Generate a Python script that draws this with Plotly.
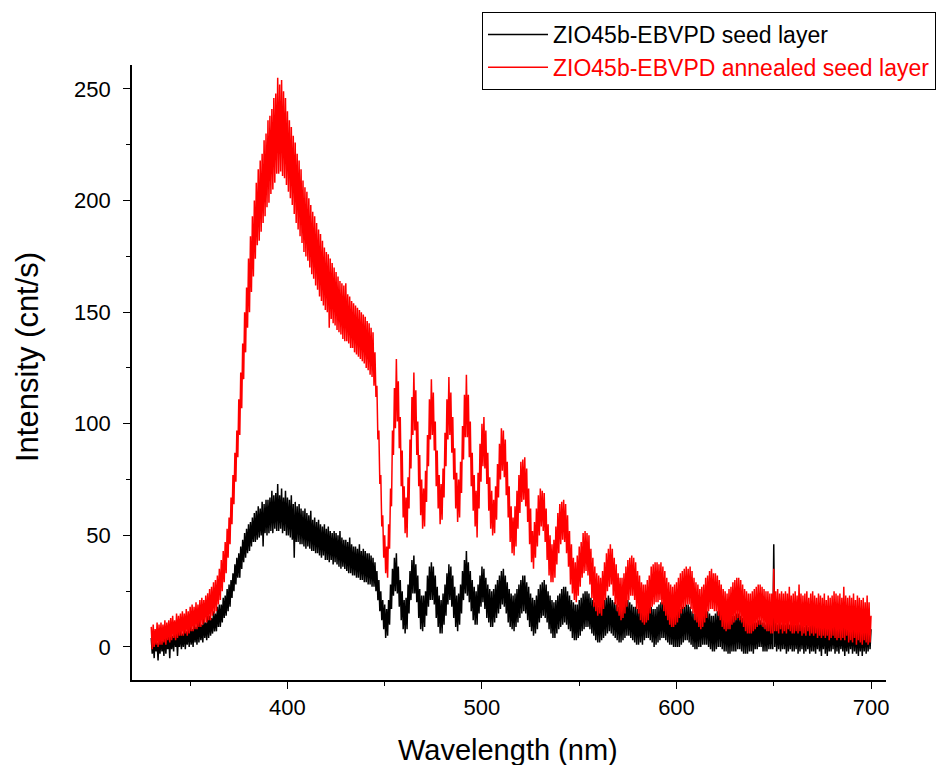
import plotly.graph_objects as go

# Wavelength grid (nm), 0.5 nm sampling from 330 to 700
wavelength = [330 + 0.5 * i for i in range(741)]

# ZIO45b-EBVPD seed layer (cnt/s); each row = 5 nm (10 samples)
seed = (
    [4, -3, 3, -5, 5, -2, 2, -6, 4, -3] +          # 330
    [5, -2, 3, -4, 6, -3, 4, -1, 5, -5] +          # 335
    [7, -1, 5, -2, 8, 0, 6, -4, 7, 0] +            # 340
    [8, -1, 6, 0, 9, -1, 7, 1, 9, 0] +             # 345
    [10, 1, 8, 0, 11, 2, 9, 1, 12, 2] +            # 350
    [12, 3, 10, 2, 13, 4, 11, 3, 14, 4] +          # 355
    [14, 5, 13, 6, 16, 7, 15, 7, 18, 9] +          # 360
    [19, 9, 19, 11, 22, 13, 23, 14, 26, 16] +      # 365
    [28, 18, 30, 22, 33, 25, 37, 28, 40, 31] +     # 370
    [42, 31, 45, 35, 48, 38, 51, 40, 53, 42] +     # 375
    [55, 43, 56, 45, 58, 47, 60, 47, 61, 48] +     # 380
    [63, 49, 62, 50, 65, 45, 64, 51, 66, 50] +     # 385
    [66, 51, 67, 52, 70, 51, 68, 53, 69, 52] +     # 390
    [73, 52, 68, 53, 71, 51, 67, 52, 70, 50] +     # 395
    [67, 50, 66, 49, 68, 48, 64, 40, 65, 47] +     # 400
    [63, 47, 64, 46, 62, 46, 61, 45, 62, 44] +     # 405
    [60, 45, 59, 44, 61, 43, 57, 43, 58, 42] +     # 410
    [56, 42, 57, 41, 55, 40, 54, 41, 55, 39] +     # 415
    [53, 39, 54, 38, 52, 39, 51, 37, 52, 38] +     # 420
    [51, 37, 50, 36, 52, 35, 49, 36, 48, 35] +     # 425
    [48, 34, 47, 33, 49, 33, 46, 32, 45, 32] +     # 430
    [45, 31, 44, 31, 46, 30, 43, 30, 44, 29] +     # 435
    [43, 29, 42, 28, 42, 28, 41, 27, 40, 27] +     # 440
    [38, 25, 34, 21, 30, 16, 25, 12, 21, 8] +      # 445
    [19, 4, 17, 5, 21, 10, 28, 17, 35, 23] +       # 450
    [40, 25, 42, 24, 36, 18, 30, 12, 25, 8] +      # 455
    [21, 6, 22, 8, 28, 15, 34, 21, 39, 24] +       # 460
    [41, 24, 37, 20, 32, 13, 26, 8, 23, 7] +       # 465
    [23, 9, 25, 14, 32, 18, 36, 21, 38, 21] +      # 470
    [36, 19, 32, 13, 27, 9, 23, 6, 21, 6] +        # 475
    [24, 10, 28, 14, 33, 19, 37, 21, 36, 18] +     # 480
    [32, 13, 27, 9, 23, 7, 24, 10, 28, 15] +       # 485
    [34, 21, 39, 24, 43, 23, 38, 20, 34, 16] +     # 490
    [30, 12, 27, 10, 25, 10, 28, 15, 32, 18] +     # 495
    [36, 20, 35, 17, 31, 13, 28, 11, 26, 9] +      # 500
    [25, 9, 26, 11, 28, 13, 30, 15, 32, 17] +      # 505
    [34, 19, 35, 18, 32, 15, 29, 11, 26, 9] +      # 510
    [24, 8, 23, 7, 24, 9, 26, 11, 28, 13] +        # 515
    [30, 15, 32, 16, 32, 15, 29, 12, 27, 9] +      # 520
    [24, 7, 22, 5, 21, 6, 23, 8, 26, 11] +         # 525
    [28, 13, 29, 14, 30, 13, 28, 11, 25, 8] +      # 530
    [23, 6, 21, 4, 20, 4, 21, 6, 23, 8] +          # 535
    [24, 9, 26, 10, 27, 11, 27, 10, 25, 8] +       # 540
    [23, 7, 21, 4, 20, 3, 19, 3, 19, 4] +          # 545
    [21, 5, 22, 7, 24, 8, 25, 9, 25, 9] +          # 550
    [24, 8, 22, 6, 21, 5, 20, 3, 19, 2] +          # 555
    [18, 2, 18, 3, 20, 4, 21, 5, 22, 6] +          # 560
    [23, 7, 22, 6, 21, 5, 20, 4, 19, 3] +          # 565
    [18, 2, 17, 2, 19, 3, 20, 4, 21, 5] +          # 570
    [21, 5, 20, 4, 19, 3, 18, 2, 18, 1] +          # 575
    [17, 1, 17, 2, 18, 1, 19, 3, 20, 4] +          # 580
    [20, 4, 19, 3, 18, 2, 17, 0, 17, 1] +          # 585
    [18, 2, 19, 3, 20, 4, 20, 4, 19, 3] +          # 590
    [18, 2, 17, 1, 17, 1, 16, 0, 16, 0] +          # 595
    [16, 0, 16, 0, 17, 1, 18, 2, 18, 3] +          # 600
    [19, 3, 19, 2, 18, 1, 16, 0, 15, -1] +         # 605
    [15, -1, 15, 0, 16, 0, 17, 1, 17, 1] +         # 610
    [17, 1, 16, 0, 15, -1, 14, -2, 14, -2] +       # 615
    [15, -1, 16, 0, 17, 0, 15, -1, 14, -2] +       # 620
    [14, -2, 13, -3, 13, -3, 14, -2, 14, -2] +     # 625
    [14, -2, 15, -1, 15, -1, 14, -2, 13, -3] +     # 630
    [13, -3, 13, -3, 13, -2, 14, -2, 14, -3] +     # 635
    [11, -1, 11, -1, 12, 0, 12, 0, 11, -2] +       # 640
    [11, -2, 10, -2, 11, -1, 11, -1, 11, -1] +     # 645
    [46, 0, 11, -2, 10, -1, 11, -2, 10, -1] +      # 650
    [11, -1, 10, -3, 11, -2, 10, -1, 11, -2] +     # 655
    [12, -2, 10, -1, 11, -3, 10, -2, 11, -1] +     # 660
    [11, -3, 9, -2, 10, -1, 9, -3, 10, -2] +       # 665
    [11, -2, 10, -3, 9, -1, 10, -2, 9, -4] +       # 670
    [9, -1, 10, -3, 10, -4, 9, -2, 9, -2] +        # 675
    [10, -1, 11, -3, 9, -2, 10, -3, 9, -1] +       # 680
    [9, -2, 10, -4, 10, -2, 9, -3, 9, -1] +        # 685
    [10, -3, 11, -2, 9, -3, 10, -4, 9, -2] +       # 690
    [9, -4, 10, -2, 9, -3, 10, -2, 9, -1] +        # 695
    [8]                                            # 700
)

# ZIO45b-EBVPD annealed seed layer (cnt/s)
annealed = (
    [9, -1, 10, 0, 8, 1, 11, 0, 10, 1] +                   # 330
    [11, 1, 10, 2, 12, 1, 11, 3, 12, 2] +                  # 335
    [13, 3, 14, 4, 12, 3, 15, 4, 14, 5] +                  # 340
    [15, 5, 16, 5, 15, 6, 17, 5, 16, 6] +                  # 345
    [18, 7, 19, 7, 18, 8, 20, 8, 19, 9] +                  # 350
    [21, 9, 22, 10, 21, 11, 23, 11, 24, 12] +              # 355
    [26, 12, 27, 14, 29, 15, 30, 16, 32, 19] +             # 360
    [35, 21, 39, 25, 43, 29, 47, 33, 53, 40] +             # 365
    [58, 46, 67, 55, 77, 64, 87, 74, 97, 85] +             # 370
    [111, 95, 123, 107, 136, 120, 150, 132, 161, 143] +    # 375
    [174, 150, 184, 159, 193, 166, 200, 174, 208, 180] +   # 380
    [214, 182, 218, 186, 221, 190, 227, 193, 230, 197] +   # 385
    [236, 199, 238, 203, 241, 205, 246, 208, 248, 212] +   # 390
    [255, 212, 252, 213, 254, 211, 249, 210, 246, 207] +   # 395
    [240, 204, 236, 201, 233, 198, 229, 194, 226, 190] +   # 400
    [221, 187, 218, 184, 214, 181, 209, 177, 206, 175] +   # 405
    [204, 173, 201, 170, 198, 167, 195, 165, 193, 162] +   # 410
    [190, 160, 187, 157, 185, 155, 182, 153, 179, 151] +   # 415
    [177, 150, 176, 143, 174, 147, 172, 145, 170, 144] +   # 420
    [168, 142, 166, 141, 164, 140, 163, 138, 162, 137] +   # 425
    [163, 137, 158, 136, 157, 134, 155, 134, 154, 132] +   # 430
    [153, 131, 152, 130, 151, 129, 150, 128, 149, 127] +   # 435
    [148, 125, 146, 124, 145, 122, 143, 121, 141, 117] +   # 440
    [132, 112, 117, 93, 97, 73, 77, 54, 59, 40] +          # 445
    [50, 33, 45, 31, 55, 44, 71, 63, 97, 86] +             # 450
    [116, 98, 129, 101, 119, 89, 103, 72, 88, 58] +        # 455
    [72, 51, 67, 49, 76, 62, 93, 80, 112, 95] +            # 460
    [123, 97, 115, 86, 101, 72, 86, 59, 75, 53] +          # 465
    [71, 54, 79, 65, 95, 81, 111, 93, 120, 95] +           # 470
    [114, 88, 101, 72, 88, 62, 77, 55, 73, 57] +           # 475
    [80, 67, 96, 81, 111, 93, 121, 95, 114, 87] +          # 480
    [103, 75, 89, 62, 78, 56, 75, 58, 83, 69] +            # 485
    [99, 84, 113, 94, 122, 94, 113, 85, 101, 72] +         # 490
    [87, 61, 77, 54, 70, 49, 78, 62, 91, 74] +             # 495
    [100, 81, 103, 80, 97, 73, 87, 61, 76, 53] +           # 500
    [70, 50, 66, 51, 72, 57, 82, 67, 91, 75] +             # 505
    [98, 79, 97, 76, 93, 68, 83, 58, 72, 47] +             # 510
    [63, 42, 58, 41, 63, 45, 70, 53, 77, 60] +             # 515
    [83, 65, 84, 66, 85, 63, 80, 56, 71, 46] +             # 520
    [62, 38, 52, 35, 56, 40, 62, 45, 68, 50] +             # 525
    [71, 54, 70, 52, 69, 47, 62, 39, 55, 32] +             # 530
    [50, 29, 46, 29, 48, 31, 54, 37, 60, 42] +             # 535
    [64, 46, 65, 48, 66, 47, 64, 42, 59, 36] +             # 540
    [52, 28, 46, 24, 40, 21, 38, 20, 41, 23] +             # 545
    [45, 27, 47, 31, 51, 33, 52, 34, 51, 32] +             # 550
    [50, 28, 44, 22, 40, 18, 36, 16, 33, 14] +             # 555
    [32, 15, 31, 14, 34, 17, 38, 21, 42, 25] +             # 560
    [44, 27, 46, 28, 44, 23, 40, 19, 37, 16] +             # 565
    [33, 14, 31, 12, 31, 13, 33, 15, 36, 18] +             # 570
    [39, 21, 40, 23, 41, 23, 40, 21, 38, 17] +             # 575
    [34, 15, 32, 12, 29, 11, 28, 10, 28, 11] +             # 580
    [30, 12, 32, 15, 36, 18, 37, 19, 38, 20] +             # 585
    [38, 20, 37, 21, 38, 19, 36, 16, 34, 14] +             # 590
    [31, 12, 29, 10, 28, 9, 27, 9, 28, 10] +               # 595
    [29, 11, 31, 13, 33, 15, 34, 17, 35, 18] +             # 600
    [36, 19, 35, 19, 36, 17, 34, 15, 31, 12] +             # 605
    [29, 11, 28, 9, 26, 8, 27, 9, 28, 11] +                # 610
    [31, 13, 32, 16, 34, 17, 35, 17, 33, 16] +             # 615
    [33, 16, 32, 14, 30, 12, 28, 9, 26, 8] +               # 620
    [25, 7, 24, 8, 26, 8, 27, 10, 29, 11] +                # 625
    [30, 12, 31, 13, 31, 12, 30, 11, 28, 9] +              # 630
    [26, 7, 25, 6, 24, 6, 24, 6, 25, 7] +                  # 635
    [26, 8, 27, 9, 28, 10, 28, 10, 27, 9] +                # 640
    [26, 8, 25, 7, 25, 7, 24, 6, 24, 6] +                  # 645
    [35, 7, 25, 7, 26, 6, 24, 8, 25, 6] +                  # 650
    [24, 7, 25, 6, 24, 8, 27, 7, 23, 6] +                  # 655
    [24, 6, 25, 7, 23, 6, 28, 7, 24, 5] +                  # 660
    [23, 6, 24, 5, 25, 7, 22, 5, 24, 6] +                  # 665
    [25, 5, 23, 6, 22, 4, 24, 5, 23, 4] +                  # 670
    [22, 5, 24, 4, 21, 5, 23, 3, 22, 4] +                  # 675
    [23, 5, 25, 4, 24, 3, 23, 4, 24, 3] +                  # 680
    [22, 4, 27, 3, 23, 5, 22, 2, 23, 3] +                  # 685
    [22, 2, 24, 4, 21, 1, 23, 3, 22, 2] +                  # 690
    [21, 1, 22, 3, 20, 2, 23, 1, 20, 2] +                  # 695
    [14]                                                   # 700
)

assert len(seed) == len(wavelength), len(seed)
assert len(annealed) == len(wavelength), len(annealed)

series_names = ["ZIO45b-EBVPD seed layer", "ZIO45b-EBVPD annealed seed layer"]
series_colors = ["#000000", "#FF0000"]
x_ticks = [400, 500, 600, 700]
y_ticks = [0, 50, 100, 150, 200, 250]
x_title = "Wavelength (nm)"
y_title = "Intensity (cnt/s)"

FONT = "Liberation Sans, Arial, sans-serif"

fig = go.Figure()
for vals, name, col in zip([seed, annealed], series_names, series_colors):
    fig.add_trace(go.Scatter(
        x=wavelength, y=vals, mode="lines",
        name=f"<span style='color:{col}'>{name}</span>",
        line=dict(color=col, width=1.5, simplify=False),
    ))

axis_common = dict(
    showline=True, linecolor="black", linewidth=1.6, mirror=False,
    showgrid=False, zeroline=False, ticks="outside", ticklen=7,
    tickwidth=1.3, tickcolor="black", automargin=False,
    tickfont=dict(family=FONT, size=22, color="black"),
)

fig.update_layout(
    width=937, height=765,
    margin=dict(l=132, r=51, t=65, b=85, autoexpand=False),
    paper_bgcolor="white", plot_bgcolor="white",
    font=dict(family=FONT, color="black"),
    xaxis=dict(
        range=[320.1, 707.7], tickvals=x_ticks,
        minor=dict(ticks="outside", ticklen=4, tickwidth=1.2, tickcolor="black", dtick=50, tick0=300),
        ticklabelstandoff=0,
        **axis_common,
    ),
    yaxis=dict(
        range=[-14.8, 260.75], tickvals=y_ticks,
        minor=dict(ticks="outside", ticklen=4, tickwidth=1.2, tickcolor="black", dtick=25, tick0=0),
        ticklabelstandoff=8,
        **axis_common,
    ),
    legend=dict(
        x=(482 - 132) / 754, y=(680 - 12) / 615, xanchor="left", yanchor="top",
        bgcolor="white", bordercolor="black", borderwidth=1,
        font=dict(family=FONT, size=23),
        itemwidth=60, tracegroupgap=0,
    ),
    showlegend=True,
    annotations=[
        dict(text=x_title, xref="paper", yref="paper",
             x=(508 - 132) / 754, y=(680 - 750) / 615,
             xanchor="center", yanchor="middle", showarrow=False,
             font=dict(family=FONT, size=29, color="black")),
        dict(text=y_title, xref="paper", yref="paper",
             x=(27 - 132) / 754, y=(680 - 357) / 615, textangle=-90,
             xanchor="center", yanchor="middle", showarrow=False,
             font=dict(family=FONT, size=31, color="black")),
    ],
)

fig.write_html("out.html")
